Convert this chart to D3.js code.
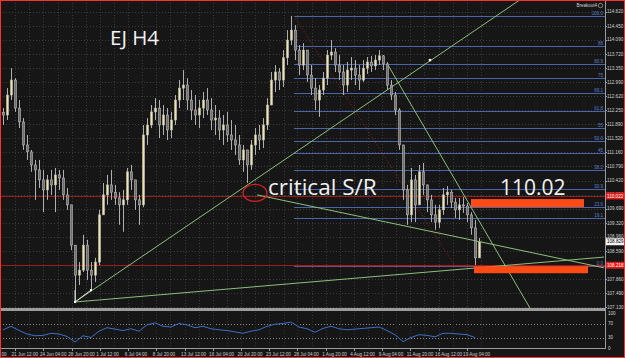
<!DOCTYPE html>
<html>
<head>
<meta charset="utf-8">
<script src="https://cdn.jsdelivr.net/npm/d3@7"></script>
<style>
  body { margin: 0; background: #161616; }
  svg { display: block; }
</style>
</head>
<body>
<svg id="chart"></svg>
<script>
// EURJPY H4, one candle per ~2 H4 bars
const firstOpen = 112.20;
const highs = [112.31,112.83,113.35,113.09,112.52,112.05,111.61,111.22,110.96,110.96,110.70,110.57,110.70,110.75,110.70,110.70,110.23,109.79,108.74,108.30,
  109.01,108.88,108.30,108.41,109.66,110.36,110.57,110.70,110.31,110.12,110.18,110.75,110.83,110.44,110.05,111.87,112.05,112.39,112.57,112.52,
  112.39,112.31,112.21,112.65,113.04,113.30,113.09,112.78,112.65,112.52,112.73,112.83,112.57,112.39,112.26,112.13,112.21,112.00,111.87,111.61,
  111.35,111.22,111.48,111.79,111.87,112.05,112.57,113.25,113.43,113.35,113.82,114.34,114.71,114.47,113.95,114.00,113.82,113.43,113.09,112.91,
  113.25,113.82,114.08,113.87,113.69,113.43,113.51,113.64,113.56,113.43,113.56,113.64,113.67,113.69,113.82,113.69,113.51,113.04,112.73,112.31,
  111.22,110.31,110.75,110.57,110.83,110.88,110.31,110.05,109.79,109.79,110.23,110.28,110.18,109.97,109.97,109.99,109.84,109.60,109.40,108.93];
const lows = [111.87,112.00,112.52,112.21,111.79,111.22,110.96,110.65,109.92,110.23,109.60,109.92,110.05,109.60,110.18,109.92,109.66,108.61,107.26,107.70,
  108.04,107.83,107.57,107.78,108.22,109.60,109.79,109.92,109.79,109.27,109.09,109.79,110.18,109.66,109.27,109.73,111.35,111.79,112.00,111.53,
  111.61,111.48,111.53,111.87,112.31,112.52,112.26,112.00,111.87,111.79,112.05,112.13,111.74,111.61,111.48,111.35,111.43,111.22,111.09,110.83,
  110.65,110.36,110.70,111.09,111.22,111.27,111.74,112.39,112.73,112.78,112.86,113.43,113.95,113.56,113.17,113.30,112.99,112.65,112.26,112.08,
  112.65,112.91,113.56,113.25,113.04,112.65,112.73,113.04,112.91,112.78,112.99,113.20,113.25,113.30,113.43,113.30,112.78,112.52,112.13,111.22,
  109.92,109.27,109.34,109.34,109.92,110.05,109.60,109.34,109.14,109.19,109.53,109.79,109.71,109.45,109.40,109.58,109.34,109.01,108.22,108.46];
const closes = [112.13,112.65,113.04,112.31,111.95,111.35,111.17,110.83,110.70,110.44,110.18,110.44,110.31,110.57,110.49,110.05,109.79,108.74,107.96,108.09,
  108.74,108.09,107.96,108.30,109.53,110.05,110.31,110.12,109.97,109.79,109.92,110.65,110.44,109.92,109.79,111.61,111.87,112.21,112.31,111.87,
  112.13,111.74,112.00,112.52,112.83,112.91,112.52,112.26,112.13,112.31,112.52,112.26,112.00,112.05,111.74,111.87,111.61,111.48,111.35,110.96,
  111.22,110.83,111.35,111.61,111.48,111.87,112.39,113.04,113.25,113.04,113.62,114.08,114.34,113.82,113.43,113.82,113.17,112.83,112.52,112.78,
  113.09,113.69,113.77,113.43,113.25,112.91,113.30,113.35,113.17,113.04,113.35,113.51,113.41,113.56,113.67,113.46,112.91,112.65,112.26,111.35,
  110.18,109.53,110.44,109.79,110.65,110.31,109.92,109.53,109.34,109.66,110.05,110.12,109.86,109.66,109.79,109.76,109.53,109.19,108.41,108.83];

// oscillator, one value per two candles
const rsiValues = [52,62,50,40,35,36,42,40,33,17,35,30,48,58,54,50,55,48,66,72,
  62,60,70,66,58,62,55,52,50,46,42,48,52,62,68,70,74,60,55,45,
  56,62,55,52,54,56,58,60,50,38,18,30,38,36,32,42,42,40,38,30];

const priceTicks = ["114.820","114.450","114.090","113.720","113.350","112.990","112.620","112.250","111.890","111.520","111.160",
  "110.790","110.420","110.050","109.690","109.320","108.960","108.590","108.220","107.860","107.490","107.130"];
// first label is cut by the window edge in the screenshot, only "00" shows
const timeTicks = ["00","21 Jun 12:00","24 Jun 04:00","28 Jun 20:00","1 Jul 12:00","6 Jul 04:00","8 Jul 20:00","13 Jul 12:00",
  "16 Jul 04:00","20 Jul 20:00","23 Jul 12:00","28 Jul 04:00","1 Aug 20:00","4 Aug 12:00","9 Aug 04:00","11 Aug 20:00","16 Aug 12:00","19 Aug 04:00"];
const timeTickPos = [-0.4,3.0,10.1,17.2,24.2,31.3,38.3,45.4,52.4,59.5,66.6,73.6,80.7,87.7,94.8,101.8,108.9,115.9];

const fibLevels = ["100.0","88","80.9","75","69.1","61.8","55","50.0","45","38.2","30.9","23.6","19.1","0.0"];
const fibHigh = 114.71, fibLow = 108.20, fibStart = 72.75;

const levelLines = [110.022, 108.218];
const lastPrice = 108.829;

// trend lines: [index, price] pairs
const trendLines = [
  [[18, 107.26], [129.25, 115.13]],
  [[18, 107.26], [150.25, 108.43]],
  [[63.5, 110.05], [150.25, 108.15]],
  [[96.25, 113.43], [131.75, 107.10]]
];
const fibDiagonal = [[72.75, 114.71], [113, 108.20]];
const boxes = [
  {i0: 117, i1: 145.25, p0: 109.94, p1: 109.73},
  {i0: 117.75, i1: 146.25, p0: 108.19, p1: 108.01}
];

const W = 625, H = 358;
const plotRight = 605, plotBottom = 308;
const indTop = 312, indBottom = 348;

const svg = d3.select("#chart").attr("width", W).attr("height", H)
  .style("background", "#161616")
  .style("font-family", "'Liberation Sans', Arial, sans-serif");

const x = d3.scaleLinear().domain([0, 119]).range([3, 479]);
const y = d3.scaleLinear().domain([107.13, 114.82]).range([307, 11.7]);
const yi = d3.scaleLinear().domain([0, 100]).range([indBottom, indTop + 1]);

svg.append("clipPath").attr("id", "mainClip")
  .append("rect").attr("x", 0).attr("y", 0).attr("width", plotRight).attr("height", plotBottom);

const main = svg.append("g").attr("clip-path", "url(#mainClip)");

// dotted grid
const gridV = [];
timeTickPos.slice(1).forEach(t => { gridV.push(t); gridV.push(t + 3.53); });
main.selectAll(".gv").data(gridV).join("line")
  .attr("x1", d => Math.round(x(d)) + 0.5).attr("x2", d => Math.round(x(d)) + 0.5)
  .attr("y1", 0).attr("y2", plotBottom)
  .attr("stroke", "#3a3a3a").attr("stroke-dasharray", "1,2");
main.selectAll(".gh").data(priceTicks).join("line")
  .attr("x1", 0).attr("x2", plotRight)
  .attr("y1", d => Math.round(y(+d)) + 0.5).attr("y2", d => Math.round(y(+d)) + 0.5)
  .attr("stroke", "#3a3a3a").attr("stroke-dasharray", "1,2");

// horizontal level lines
main.selectAll(".lvl").data(levelLines).join("line")
  .attr("x1", 0).attr("x2", plotRight)
  .attr("y1", d => Math.round(y(d)) + 0.5).attr("y2", d => Math.round(y(d)) + 0.5)
  .attr("stroke", "#a01c1c");

// fibonacci levels
const fibPrice = l => fibLow + (+l) / 100 * (fibHigh - fibLow);
main.selectAll(".fib").data(fibLevels).join("line")
  .attr("x1", x(fibStart)).attr("x2", plotRight)
  .attr("y1", d => Math.round(y(fibPrice(d))) + 0.5).attr("y2", d => Math.round(y(fibPrice(d))) + 0.5)
  .attr("stroke", d => d === "0.0" ? "#7a4a7a" : "#4a66a8");
main.selectAll(".fibl").data(fibLevels).join("text")
  .attr("x", plotRight - 2).attr("y", d => y(fibPrice(d)) - 1)
  .attr("text-anchor", "end").attr("font-size", 4.5).attr("fill", "#5d7fd0")
  .text(d => d);

main.append("line")
  .attr("x1", x(fibDiagonal[0][0])).attr("y1", y(fibDiagonal[0][1]))
  .attr("x2", x(fibDiagonal[1][0])).attr("y2", y(fibDiagonal[1][1]))
  .attr("stroke", "#9a2020").attr("stroke-dasharray", "1,2");

// candles
const candles = closes.map((c, i) => ({i, o: i ? closes[i - 1] : firstOpen, h: highs[i], l: lows[i], c}));
main.selectAll(".wick").data(candles).join("line")
  .attr("x1", d => Math.round(x(d.i)) + 0.5).attr("x2", d => Math.round(x(d.i)) + 0.5)
  .attr("y1", d => y(d.h)).attr("y2", d => y(d.l))
  .attr("stroke", "#b0b0b0");
main.selectAll(".body").data(candles).join("rect")
  .attr("x", d => Math.round(x(d.i)) - 0.5)
  .attr("width", 2)
  .attr("y", d => y(Math.max(d.o, d.c)))
  .attr("height", d => Math.max(1, Math.abs(y(d.o) - y(d.c))))
  .attr("fill", d => d.c >= d.o ? "#efe6a4" : "#6e6e6e")
  .attr("stroke", "#bcbcbc").attr("stroke-width", 0.6);

// trend lines
main.selectAll(".trend").data(trendLines).join("line")
  .attr("x1", d => x(d[0][0])).attr("y1", d => y(d[0][1]))
  .attr("x2", d => x(d[1][0])).attr("y2", d => y(d[1][1]))
  .attr("stroke", "#8cc07a").attr("stroke-width", 1);

// small white marker between the two lows
main.append("line")
  .attr("x1", x(18)).attr("y1", y(107.26)).attr("x2", x(22)).attr("y2", y(107.57))
  .attr("stroke", "#dddddd");
main.append("line")
  .attr("x1", x(18)).attr("y1", y(107.26)).attr("x2", x(18)).attr("y2", y(107.57))
  .attr("stroke", "#dddddd");
main.selectAll(".mk").data([[18, 107.26], [22, 107.57]]).join("rect")
  .attr("x", d => x(d[0]) - 1).attr("y", d => y(d[1]) - 1).attr("width", 2).attr("height", 2)
  .attr("fill", "#ffffff");
main.append("circle").attr("cx", x(106.75)).attr("cy", y(113.56)).attr("r", 1.4).attr("fill", "#ffffff");

// orange boxes
main.selectAll(".box").data(boxes).join("rect")
  .attr("x", d => x(d.i0)).attr("width", d => x(d.i1) - x(d.i0))
  .attr("y", d => y(d.p0)).attr("height", d => y(d.p1) - y(d.p0))
  .attr("fill", "#ff4a14");

// annotations
main.append("ellipse")
  .attr("cx", x(63)).attr("cy", y(110.10)).attr("rx", 12).attr("ry", 8.5)
  .attr("fill", "none").attr("stroke", "#e02020").attr("stroke-width", 1.2);
main.append("text").attr("x", x(66.25)).attr("y", y(110.05))
  .attr("font-family", "'Open Sans', sans-serif").attr("font-size", 22.5).attr("fill", "#f2f2f2")
  .text("critical S/R");
main.append("text").attr("x", x(124.25)).attr("y", y(110.05))
  .attr("font-family", "'Open Sans', sans-serif").attr("font-size", 21).attr("fill", "#f2f2f2")
  .text("110.02");
main.append("text").attr("x", x(26.75)).attr("y", y(113.95))
  .attr("font-family", "'Open Sans', sans-serif").attr("font-size", 20.5).attr("fill", "#f2f2f2")
  .text("EJ H4");

// indicator name
svg.append("text").attr("x", 597).attr("y", 7).attr("text-anchor", "end")
  .attr("font-size", 4.5).attr("fill", "#d0d0d0").text("Breakout4");
svg.append("circle").attr("cx", 600.5).attr("cy", 5.5).attr("r", 2.2)
  .attr("fill", "none").attr("stroke", "#d0d0d0").attr("stroke-width", 0.6);

// panel separator
svg.append("rect").attr("x", 0).attr("y", plotBottom).attr("width", plotRight + 1).attr("height", 3)
  .attr("fill", "#9c9c9c");

// oscillator panel
const ind = svg.append("g");
ind.selectAll(".il").data([70, 30]).join("line")
  .attr("x1", 0).attr("x2", plotRight)
  .attr("y1", d => Math.round(yi(d)) + 0.5).attr("y2", d => Math.round(yi(d)) + 0.5)
  .attr("stroke", "#8a8a8a").attr("stroke-dasharray", "1,2");
ind.selectAll(".igv").data(gridV).join("line")
  .attr("x1", d => Math.round(x(d)) + 0.5).attr("x2", d => Math.round(x(d)) + 0.5)
  .attr("y1", indTop).attr("y2", indBottom)
  .attr("stroke", "#333333").attr("stroke-dasharray", "1,2");
ind.append("path")
  .datum(rsiValues)
  .attr("d", d3.line().x((d, k) => x(k * 2)).y(d => yi(d)))
  .attr("fill", "none").attr("stroke", "#3d6fc4").attr("stroke-width", 1);
ind.append("line").attr("x1", 0).attr("x2", plotRight + 1)
  .attr("y1", indBottom + 0.5).attr("y2", indBottom + 0.5).attr("stroke", "#9c9c9c");

// right price axis
svg.append("line").attr("x1", plotRight + 0.5).attr("x2", plotRight + 0.5)
  .attr("y1", 0).attr("y2", indBottom + 1).attr("stroke", "#9c9c9c");
svg.selectAll(".pt").data(priceTicks).join("text")
  .attr("x", 607).attr("y", d => y(+d) + 1.6)
  .attr("font-size", 4.6).attr("fill", "#cfcfcf").text(d => d);
svg.selectAll(".ptk").data(priceTicks).join("line")
  .attr("x1", plotRight).attr("x2", plotRight + 2)
  .attr("y1", d => Math.round(y(+d)) + 0.5).attr("y2", d => Math.round(y(+d)) + 0.5)
  .attr("stroke", "#9c9c9c");

const tags = [
  {p: levelLines[0], bg: "#e01818", fg: "#ffffff"},
  {p: lastPrice, bg: "#f4f4f4", fg: "#000000"},
  {p: levelLines[1], bg: "#e01818", fg: "#ffffff"}
];
svg.selectAll(".tagr").data(tags).join("rect")
  .attr("x", plotRight + 1).attr("y", d => y(d.p) - 3.5).attr("width", 19).attr("height", 7)
  .attr("fill", d => d.bg);
svg.selectAll(".tagt").data(tags).join("text")
  .attr("x", 607).attr("y", d => y(d.p) + 1.6)
  .attr("font-size", 4.6).attr("fill", d => d.fg).text(d => d.p.toFixed(3));

svg.selectAll(".ir").data([100, 70, 30, 0]).join("text")
  .attr("x", 608).attr("y", d => yi(d) + 1.6)
  .attr("font-size", 4.6).attr("fill", "#cfcfcf").text(d => d);

// time axis
svg.selectAll(".tt").data(timeTicks).join("text")
  .attr("x", (d, k) => k ? x(timeTickPos[k]) - 3.5 : 1.5).attr("y", 355.5)
  .attr("font-size", 4.6).attr("fill", "#cfcfcf").text(d => d);
svg.selectAll(".ttk").data(timeTickPos.slice(1)).join("line")
  .attr("x1", d => Math.round(x(d)) + 0.5).attr("x2", d => Math.round(x(d)) + 0.5)
  .attr("y1", indBottom).attr("y2", indBottom + 3)
  .attr("stroke", "#9c9c9c");

// outer red frame
svg.append("rect").attr("x", 0.5).attr("y", 0.5).attr("width", W - 1).attr("height", H - 1)
  .attr("fill", "none").attr("stroke", "#ff3030");
</script>
</body>
</html>
